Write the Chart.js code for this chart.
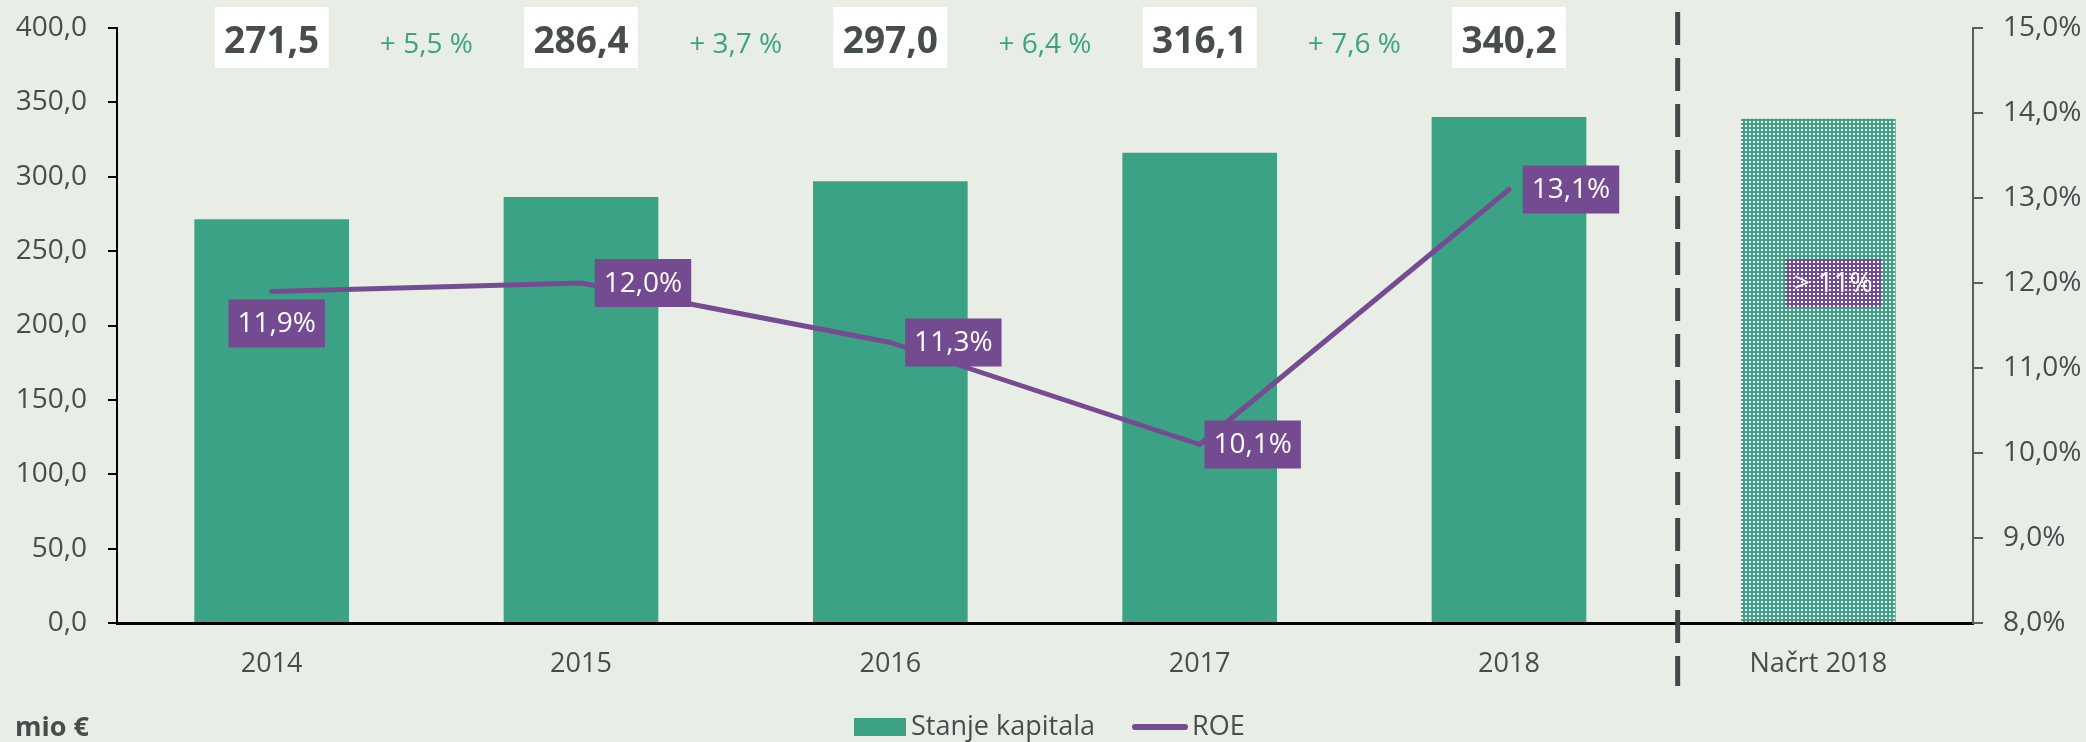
<!DOCTYPE html>
<html>
<head>
<meta charset="utf-8">
<script src="https://cdn.jsdelivr.net/npm/chart.js@4.4.0/dist/chart.umd.min.js"></script>
<style>
  html, body { margin: 0; padding: 0; background: #e8ede6; }
  #wrap { width: 2086px; height: 742px; position: relative; }
</style>
</head>
<body>
<div id="wrap"><canvas id="kapital"></canvas></div>
<script>
// data
const years = ["2014", "2015", "2016", "2017", "2018", "Načrt 2018"];
const capital = [271.5, 286.4, 297.0, 316.1, 340.2, 339.0];
const roe = [11.9, 12.0, 11.3, 10.1, 13.1, null];
const planRoeText = "> 11%";
const planRoeLevel = 12.0;
const leftRange = [0, 400, 50];
const rightRange = [8, 15, 1];

const GREEN = "#3ca285", PURPLE = "#754c92", BOXPURPLE = "#744b90", TEXT = "#474c4c", BG = "#e8ede6";
const FONT = "'Open Sans', 'DejaVu Sans', sans-serif";

const fmt = v => v.toFixed(1).replace(".", ",");

function dotPattern(color) {
  const c = document.createElement("canvas");
  c.width = 4; c.height = 4;
  const g = c.getContext("2d");
  g.fillStyle = color; g.fillRect(0, 0, 4, 4);
  g.fillStyle = "#ffffff"; g.fillRect(1, 1, 2, 2);
  return g.createPattern(c, "repeat");
}
const greenDots = dotPattern(GREEN);
const purpleDots = dotPattern(BOXPURPLE);

// where each ROE label box sits relative to its point (box centre offset)
const roeLabelOffset = [[5, 32], [62, 0], [63, 0], [53, 0], [62, 0]];

const bgPlugin = {
  id: "bg",
  beforeDraw(chart) {
    const ctx = chart.ctx;
    ctx.save();
    ctx.fillStyle = BG;
    ctx.fillRect(0, 0, chart.width, chart.height);
    ctx.restore();
  }
};

function labelBox(ctx, text, cx, cy, fill) {
  ctx.font = "28px " + FONT;
  const w = ctx.measureText(text).width + 18;
  const h = 48;
  ctx.fillStyle = fill;
  ctx.fillRect(cx - w / 2, cy - h / 2, w, h);
  ctx.fillStyle = "#ffffff";
  ctx.textAlign = "center";
  ctx.textBaseline = "middle";
  ctx.fillText(text, cx, cy + 1);
}

const overlayPlugin = {
  id: "overlay",
  afterDatasetsDraw(chart) {
    const ctx = chart.ctx;
    const x = chart.scales.x, y1 = chart.scales.y1;
    ctx.save();

    // dashed divider between actual and plan
    const dx = (x.getPixelForValue(4) + x.getPixelForValue(5)) / 2 + 14;
    ctx.strokeStyle = "#424747";
    ctx.lineWidth = 5;
    ctx.setLineDash([33, 13]);
    ctx.beginPath();
    ctx.moveTo(dx, 12);
    ctx.lineTo(dx, 686);
    ctx.stroke();
    ctx.setLineDash([]);

    // ROE labels
    const meta = chart.getDatasetMeta(1);
    roe.forEach((v, i) => {
      if (v == null) return;
      const p = meta.data[i];
      const off = roeLabelOffset[i];
      labelBox(ctx, fmt(v) + "%", p.x + off[0], p.y + off[1], BOXPURPLE);
    });
    labelBox(ctx, planRoeText, x.getPixelForValue(5) + 15, y1.getPixelForValue(planRoeLevel), purpleDots);
    ctx.restore();
  },
  afterDraw(chart) {
    const ctx = chart.ctx;
    const x = chart.scales.x;
    ctx.save();

    // value boxes on top
    ctx.textAlign = "center";
    ctx.textBaseline = "alphabetic";
    for (let i = 0; i < 5; i++) {
      const cx = x.getPixelForValue(i);
      ctx.fillStyle = "#ffffff";
      ctx.fillRect(cx - 57, 7, 114, 61);
      ctx.fillStyle = TEXT;
      ctx.font = "bold 37px " + FONT;
      ctx.fillText(fmt(capital[i]), cx, 53);
    }
    // growth between years
    ctx.fillStyle = GREEN;
    ctx.font = "28px " + FONT;
    for (let i = 1; i < 5; i++) {
      const g = (capital[i] / capital[i - 1] - 1) * 100;
      const cx = (x.getPixelForValue(i - 1) + x.getPixelForValue(i)) / 2;
      ctx.fillText("+ " + fmt(g) + " %", cx, 53);
    }

    // unit
    ctx.textAlign = "left";
    ctx.textBaseline = "middle";
    ctx.fillStyle = TEXT;
    ctx.font = "bold 27px " + FONT;
    ctx.fillText("mio €", 15, 728);

    // legend
    ctx.font = "27px " + FONT;
    ctx.fillStyle = GREEN;
    ctx.fillRect(854, 718, 52, 18);
    ctx.fillStyle = TEXT;
    ctx.fillText("Stanje kapitala", 911, 727);
    ctx.strokeStyle = PURPLE;
    ctx.lineWidth = 6;
    ctx.lineCap = "round";
    ctx.beginPath();
    ctx.moveTo(1135, 727);
    ctx.lineTo(1185, 727);
    ctx.stroke();
    ctx.fillText("ROE", 1192, 727);
    ctx.restore();
  }
};

const ctx = document.getElementById("kapital").getContext("2d");
new Chart(ctx, {
  type: "bar",
  data: {
    labels: years,
    datasets: [
      {
        label: "Stanje kapitala",
        data: capital,
        backgroundColor: capital.map((v, i) => (i === 5 ? greenDots : GREEN)),
        barPercentage: 0.5,
        categoryPercentage: 1.0,
        yAxisID: "y",
        order: 2
      },
      {
        type: "line",
        label: "ROE",
        data: roe,
        borderColor: PURPLE,
        borderWidth: 5,
        borderCapStyle: "round",
        borderJoinStyle: "round",
        pointRadius: 0,
        tension: 0,
        yAxisID: "y1",
        order: 1
      }
    ]
  },
  options: {
    responsive: true,
    maintainAspectRatio: false,
    animation: false,
    layout: { padding: { top: 28, left: 0, right: 0, bottom: 0 } },
    plugins: {
      legend: { display: false },
      tooltip: { enabled: false }
    },
    scales: {
      x: {
        grid: { display: false, drawTicks: false },
        border: { display: true, color: "#000000", width: 3 },
        ticks: { color: TEXT, font: { family: FONT, size: 27 }, padding: 25 },
        afterFit(s) { s.height = 119; }
      },
      y: {
        position: "left",
        min: leftRange[0], max: leftRange[1],
        grid: { display: true, drawOnChartArea: false, drawTicks: true, tickLength: 9, color: "#000000", lineWidth: 2 },
        border: { display: true, color: "#000000", width: 2 },
        ticks: {
          stepSize: leftRange[2],
          color: TEXT,
          font: { family: FONT, size: 28 },
          padding: 21,
          callback: v => fmt(v)
        },
        afterFit(s) { s.width = 117; s.paddingTop = 0; s.paddingBottom = 0; }
      },
      y1: {
        position: "right",
        min: rightRange[0], max: rightRange[1],
        grid: { display: true, drawOnChartArea: false, drawTicks: true, tickLength: 10, color: "#5a5e5e", lineWidth: 2 },
        border: { display: true, color: "#5a5e5e", width: 2 },
        ticks: {
          stepSize: rightRange[2],
          color: TEXT,
          font: { family: FONT, size: 28 },
          padding: 20,
          callback: v => fmt(v) + "%"
        },
        afterFit(s) { s.width = 113; s.paddingTop = 0; s.paddingBottom = 0; }
      }
    }
  },
  plugins: [bgPlugin, overlayPlugin]
});
</script>
</body>
</html>
